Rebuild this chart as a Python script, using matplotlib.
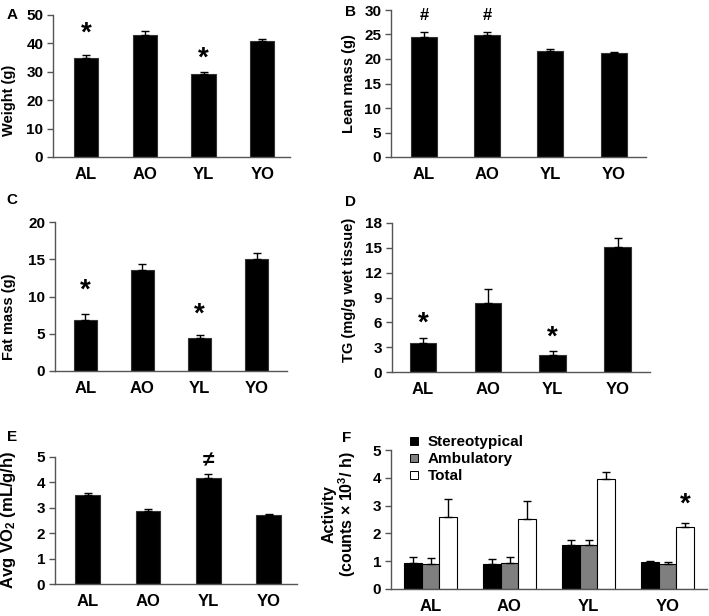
import numpy as np
import matplotlib
matplotlib.use('Agg')
import matplotlib.pyplot as plt
from matplotlib.lines import Line2D

plt.rcParams['font.family'] = ['Liberation Sans', 'DejaVu Sans']
plt.rcParams['font.weight'] = 'bold'
plt.rcParams['mathtext.fontset'] = 'custom'
plt.rcParams['mathtext.rm'] = 'Liberation Sans:bold'
plt.rcParams['mathtext.default'] = 'rm'

groups = ['AL', 'AO', 'YL', 'YO']

weight = [35.0, 43.0, 29.3, 40.7]
weight_err = [0.8, 1.2, 0.6, 0.8]

lean = [24.5, 24.8, 21.7, 21.3]
lean_err = [1.0, 0.7, 0.4, 0.2]

fat = [6.9, 13.5, 4.4, 15.0]
fat_err = [0.7, 0.8, 0.45, 0.8]

tg = [3.5, 8.35, 2.1, 15.1]
tg_err = [0.55, 1.65, 0.4, 1.1]

vo2 = [3.5, 2.87, 4.17, 2.72]
vo2_err = [0.07, 0.07, 0.16, 0.03]

act_labels = ['Stereotypical', 'Ambulatory', 'Total']
stereo = [0.93, 0.90, 1.60, 0.98]
stereo_err = [0.23, 0.19, 0.15, 0.03]
ambul = [0.90, 0.94, 1.60, 0.90]
ambul_err = [0.23, 0.21, 0.15, 0.07]
total = [2.58, 2.52, 3.96, 2.23]
total_err = [0.64, 0.63, 0.25, 0.14]

W, H = 709, 616
fig = plt.figure(figsize=(W / 100, H / 100), dpi=100)
AXC = '#555555'


def make_ax(l, t, r, b):
    return fig.add_axes([l / W, 1 - b / H, (r - l) / W, (b - t) / H])


def style(ax, ylim, yticks, xlim):
    ax.set_xlim(*xlim)
    ax.set_ylim(*ylim)
    ax.set_yticks(yticks)
    ax.set_xticks(range(len(groups)))
    ax.set_xticklabels(groups, fontsize=12, fontweight='bold')
    ax.tick_params(axis='x', length=0, pad=7)
    ax.tick_params(axis='y', length=4, width=1, color=AXC, labelsize=11, pad=3)
    for s in ['top', 'right']:
        ax.spines[s].set_visible(False)
    for s in ['left', 'bottom']:
        ax.spines[s].set_color(AXC)
        ax.spines[s].set_linewidth(1)


def ftext(x, y, s, **kw):
    fig.text(x / W, 1 - y / H, s, ha='center', va='center', **kw)


def single(rect, vals, errs, ylim, yticks, xlim):
    ax = make_ax(*rect)
    x = np.arange(len(groups))
    ax.bar(x, vals, 0.41, color='black', edgecolor='#333333', linewidth=0.8,
           yerr=[np.zeros(len(vals)), errs], capsize=3,
           error_kw=dict(elinewidth=1, capthick=1, ecolor='black'))
    style(ax, ylim, yticks, xlim)
    return ax


# A
axA = single((53, 15, 290, 157), weight, weight_err, (0, 50), range(0, 51, 10), (-0.56, 3.47))
axA.text(0, 43.4, '*', fontsize=20, fontweight='bold', ha='center', va='center')
axA.text(2, 34.6, '*', fontsize=20, fontweight='bold', ha='center', va='center')
ftext(9, 100, 'Weight (g)', rotation=90, fontsize=10.5, fontweight='bold')
ftext(12, 15, 'A', fontsize=11, fontweight='bold')

# B
axB = single((391, 10, 646, 157), lean, lean_err, (0, 30), range(0, 31, 5), (-0.52, 3.51))
axB.text(0, 28.8, '#', fontsize=12, fontweight='bold', ha='center', va='center')
axB.text(1, 28.8, '#', fontsize=12, fontweight='bold', ha='center', va='center')
ftext(349, 84, 'Lean mass (g)', rotation=90, fontsize=10.5, fontweight='bold')
ftext(350, 12, 'B', fontsize=11, fontweight='bold')

# C
axC = single((55, 222, 287, 371), fat, fat_err, (0, 20), range(0, 21, 5), (-0.53, 3.53))
axC.text(0, 10.8, '*', fontsize=20, fontweight='bold', ha='center', va='center')
axC.text(2, 7.6, '*', fontsize=20, fontweight='bold', ha='center', va='center')
ftext(9, 317, 'Fat mass (g)', rotation=90, fontsize=10.5, fontweight='bold')
ftext(12, 200, 'C', fontsize=11, fontweight='bold')

# D
axD = single((392, 223, 650, 372), tg, tg_err, (0, 18), range(0, 19, 3), (-0.48, 3.5))
axD.text(0, 5.8, '*', fontsize=20, fontweight='bold', ha='center', va='center')
axD.text(2, 4.2, '*', fontsize=20, fontweight='bold', ha='center', va='center')
ftext(349, 290, 'TG (mg/g wet tissue)', rotation=90, fontsize=10.5, fontweight='bold')
ftext(351, 202, 'D', fontsize=11, fontweight='bold')

# E
axE = single((55, 457, 297, 584), vo2, vo2_err, (0, 5), range(0, 6), (-0.54, 3.47))
axE.text(2, 4.85, '\u2260', fontsize=15, fontweight='bold', ha='center', va='center')
ftext(9, 520, 'Avg VO$_2$ (mL/g/h)', rotation=90, fontsize=12, fontweight='bold')
ftext(12, 437, 'E', fontsize=11, fontweight='bold')

# F
axF = make_ax(391, 450, 707, 589)
x = np.arange(len(groups))
bw = 0.225
ekw = dict(elinewidth=1, capthick=1, ecolor='black')
for off, vals, errs, col, lab in [(-bw, stereo, stereo_err, 'black', act_labels[0]),
                                   (0, ambul, ambul_err, '#7f7f7f', act_labels[1]),
                                   (bw, total, total_err, 'white', act_labels[2])]:
    axF.bar(x + off, vals, bw, color=col, edgecolor='black', linewidth=0.8,
            yerr=[np.zeros(len(vals)), errs], capsize=3, error_kw=ekw, label=lab)
style(axF, (0, 5), range(0, 6), (-0.5, 3.5))
axF.text(3 + bw, 3.03, '*', fontsize=20, fontweight='bold', ha='center', va='center')
handles = [Line2D([], [], ls='none', marker='s', markersize=6, markerfacecolor=c,
                  markeredgecolor='black', markeredgewidth=0.7)
           for c in ['black', '#7f7f7f', 'white']]
axF.legend(handles, act_labels, loc='upper left', bbox_to_anchor=(0.035, 1.15),
           frameon=False, fontsize=11, handlelength=0.8, handletextpad=0.5,
           labelspacing=0.2, borderaxespad=0)
ftext(340, 514, 'Activity\n(counts \u00d7 10$^3$/ h)', rotation=90, fontsize=11.5,
      fontweight='bold', linespacing=1.0)
ftext(347, 438, 'F', fontsize=11, fontweight='bold')

fig.savefig('out.png', dpi=100)
